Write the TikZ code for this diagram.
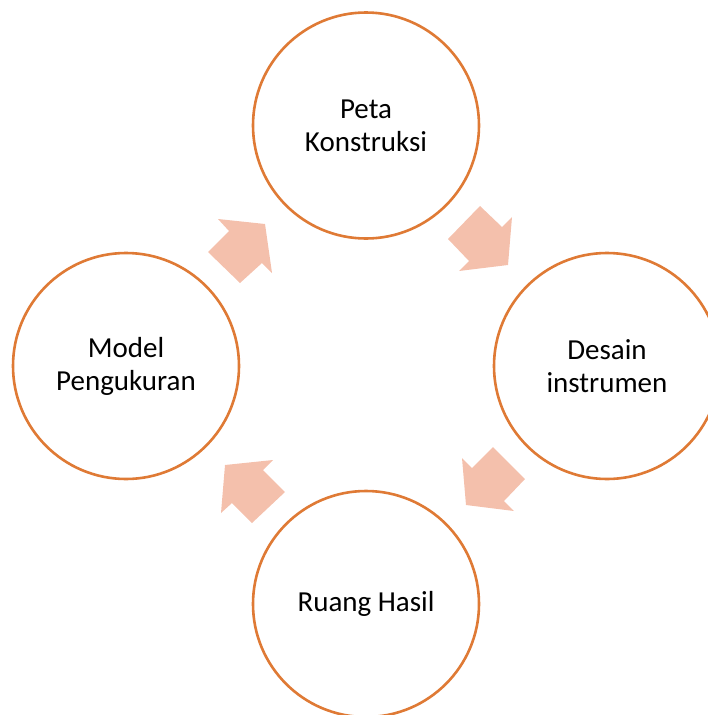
\documentclass[tikz,border=0pt]{standalone}
\usepackage{fontspec}
\setmainfont{Carlito}
\definecolor{ringcol}{HTML}{DF7A35}
\definecolor{arrowcol}{HTML}{F4C0AC}
\begin{document}
\begin{tikzpicture}[x=1pt,y=-1pt,
  ring/.style={circle, draw=ringcol, line width=2.6pt, fill=white, minimum size=226pt, inner sep=0pt,
    align=center, font=\fontsize{29}{33}\selectfont},
  blockarrow/.style={fill=arrowcol, draw=none}]
\useasboundingbox (0,0) rectangle (708,715);
\node[ring] (peta) at (366,125.5) {Peta\\Konstruksi};
\node[ring] (desain) at (607,366) {Desain\\instrumen};
\node[ring] (ruang) at (366,604) {Ruang Hasil};
\node[ring] (model) at (126,366) {Model\\Pengukuran};
% block arrows between stages
\fill[blockarrow] (480,206) -- (502,227) -- (512,217) -- (508,265) -- (459,271) -- (469,261) -- (448,239) -- cycle;
\fill[blockarrow] (493,447) -- (525,479) -- (504,501) -- (514,511) -- (466,505) -- (462,458) -- (472,468) -- cycle;
\fill[blockarrow] (225,465) -- (273,460) -- (263,470) -- (285,492) -- (252,523) -- (232,503) -- (221,513) -- cycle;
\fill[blockarrow] (218,219) -- (265,224) -- (272,273) -- (262,263) -- (240,283) -- (208,252) -- (229,231) -- cycle;
\end{tikzpicture}
\end{document}
